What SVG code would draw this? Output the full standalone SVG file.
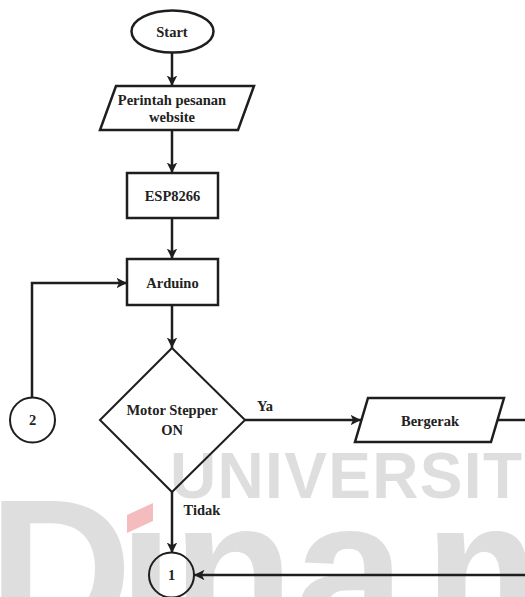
<svg xmlns="http://www.w3.org/2000/svg" width="525" height="597" viewBox="0 0 525 597">
<style>
.shape{fill:none;stroke:#1e1e1e;stroke-width:2.5}
.thin{fill:none;stroke:#1e1e1e;stroke-width:2}
.lbl{font-family:"Liberation Serif","Times New Roman",serif;font-weight:bold;font-size:14.5px;fill:#222;text-anchor:middle}
.edge{fill:none;stroke:#1e1e1e;stroke-width:2.5}
.wm{font-family:"Liberation Sans",Arial,sans-serif;fill:#dedede}
</style>
<defs>
<marker id="arr" viewBox="0 0 10 10" refX="10" refY="5" markerWidth="4.2" markerHeight="4.2" orient="auto" markerUnits="strokeWidth">
<path d="M0,0 L10,5 L0,10 L2.5,5 z" fill="#1e1e1e"/>
</marker>
</defs>
<rect width="525" height="597" fill="#ffffff"/>
<g id="watermark">
<text class="wm" x="170" y="498" font-size="64" font-weight="bold" textLength="352" lengthAdjust="spacing">UNIVERSIT</text>
<text class="wm" font-size="200" font-weight="bold" y="639"><tspan x="-12">D</tspan><tspan x="118">ı</tspan><tspan x="172">n</tspan><tspan x="294">a</tspan><tspan x="424">m</tspan></text>
<polygon points="127,515 153,503 153,521 127,533" fill="#f5bcbf"/>
</g>
<g id="connectors">
<line class="edge" x1="172" y1="53" x2="172" y2="86" marker-end="url(#arr)"/>
<line class="edge" x1="172" y1="130" x2="172" y2="173" marker-end="url(#arr)"/>
<line class="edge" x1="172" y1="218" x2="172" y2="259" marker-end="url(#arr)"/>
<line class="edge" x1="172" y1="305" x2="172" y2="348" marker-end="url(#arr)"/>
<polyline class="edge" points="32,398 32,283 127,283" marker-end="url(#arr)"/>
<line class="edge" x1="245" y1="420" x2="361" y2="420" marker-end="url(#arr)"/>
<line class="edge" x1="497" y1="420" x2="525" y2="420"/>
<line class="edge" x1="172" y1="492" x2="172" y2="553" marker-end="url(#arr)"/>
<line class="edge" x1="525" y1="575" x2="194" y2="575" marker-end="url(#arr)"/>
<text class="lbl" x="265" y="411" font-size="13">Ya</text>
<text class="lbl" x="202" y="515">Tidak</text>
</g>
<g id="start">
<ellipse class="shape" cx="172.5" cy="31.5" rx="41" ry="21"/>
<text class="lbl" x="172" y="37">Start</text>
</g>
<g id="perintah">
<polygon class="shape" points="116,86 254,86 238,130 100,130"/>
<text class="lbl" x="172" y="105">Perintah pesanan</text>
<text class="lbl" x="172" y="122">website</text>
</g>
<g id="esp8266">
<rect class="shape" x="127" y="173" width="91" height="45"/>
<text class="lbl" x="172.5" y="201">ESP8266</text>
</g>
<g id="arduino">
<rect class="shape" x="127" y="259" width="91" height="46"/>
<text class="lbl" x="172.5" y="288">Arduino</text>
</g>
<g id="decision">
<polygon class="thin" points="172,348 245,420 172,492 100,420"/>
<text class="lbl" x="172" y="415">Motor Stepper</text>
<text class="lbl" x="172" y="435">ON</text>
</g>
<g id="bergerak">
<polygon class="shape" points="368,398 504,398 491,442 355,442"/>
<text class="lbl" x="430" y="426">Bergerak</text>
</g>
<g id="connector2">
<circle class="thin" cx="32.5" cy="420" r="22.5"/>
<text class="lbl" x="32.5" y="425">2</text>
</g>
<g id="connector1">
<circle class="thin" cx="171.5" cy="575" r="22.5"/>
<text class="lbl" x="171.5" y="580">1</text>
</g>
</svg>
